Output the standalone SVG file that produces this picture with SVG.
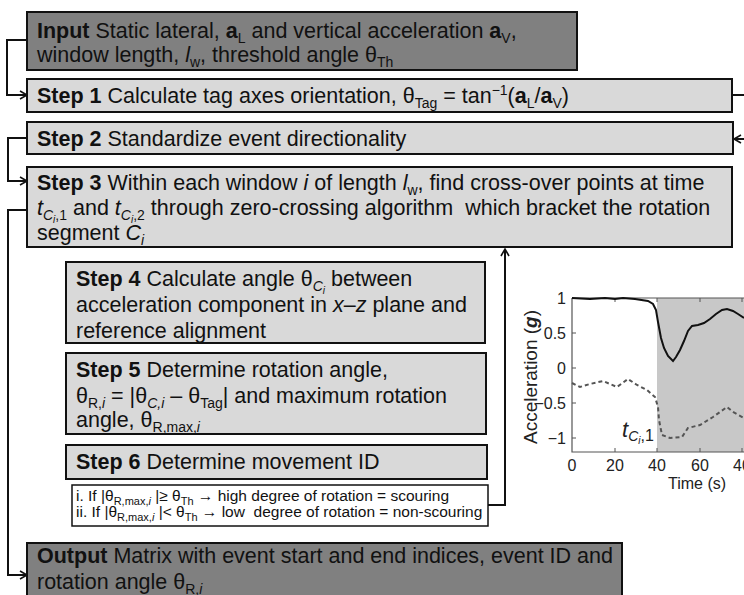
<svg xmlns="http://www.w3.org/2000/svg" width="744" height="595" viewBox="0 0 744 595">
<style>
.t{font-family:"Liberation Sans",Arial,sans-serif;font-size:21.5px;fill:#111}
.b{font-weight:bold}
.i{font-style:italic}
.s{font-size:14px}
.ss{font-size:10px}
.c{font-family:"Liberation Sans",Arial,sans-serif;font-size:15.5px;fill:#111}
.cs{font-size:11px}
.dark{fill:#808080;stroke:#111;stroke-width:2}
.light{fill:#d9d9d9;stroke:#111;stroke-width:2}
.white{fill:#fff;stroke:#111;stroke-width:1.5}
.con{fill:none;stroke:#111;stroke-width:2}
.ax{font-family:"Liberation Sans",Arial,sans-serif;font-size:16px;fill:#222}
</style>
<defs>
<marker id="ah" markerWidth="10" markerHeight="10" refX="8" refY="5" orient="auto" markerUnits="userSpaceOnUse"><path d="M1,1 L8,5 L1,9" fill="none" stroke="#111" stroke-width="1.6"/></marker>
</defs>
<g id="connectors">
<path class="con" d="M27,40 H7 V95 H27" marker-end="url(#ah)"/>
<path class="con" d="M732,95 H744"/>
<path class="con" d="M744,139 H734" marker-end="url(#ah)"/>
<path class="con" d="M27,138 H8 V181 H27" marker-end="url(#ah)"/>
<path class="con" d="M27,210 H8 V575 H27" marker-end="url(#ah)"/>
<path class="con" d="M488,505 H505 V249" marker-end="url(#ah)"/>
</g>
<g id="input">
<rect class="dark" x="27" y="12" width="550" height="58"/>
<text class="t" x="37" y="38"><tspan class="b">Input</tspan> Static lateral, <tspan class="b">a</tspan><tspan class="s" dy="5">L</tspan><tspan dy="-5"> and vertical acceleration </tspan><tspan class="b">a</tspan><tspan class="s" dy="5">V</tspan><tspan dy="-5">,</tspan></text>
<text class="t" x="37" y="62">window length, <tspan class="i">l</tspan><tspan class="s" dy="5">w</tspan><tspan dy="-5">, threshold angle θ</tspan><tspan class="s" dy="5">Th</tspan></text>
</g>
<g id="step1">
<rect class="light" x="27" y="79" width="705" height="33"/>
<text class="t" x="37" y="103"><tspan class="b">Step 1</tspan> Calculate tag axes orientation, θ<tspan class="s" dy="5">Tag</tspan><tspan dy="-5"> = tan</tspan><tspan class="s" dy="-8">−1</tspan><tspan dy="8">(</tspan><tspan class="b">a</tspan><tspan class="s" dy="5">L</tspan><tspan dy="-5">/</tspan><tspan class="b">a</tspan><tspan class="s" dy="5">V</tspan><tspan dy="-5">)</tspan></text>
</g>
<g id="step2">
<rect class="light" x="27" y="122" width="706" height="32"/>
<text class="t" x="37" y="146"><tspan class="b">Step 2</tspan> Standardize event directionality</text>
</g>
<g id="step3">
<rect class="light" x="27" y="167" width="705" height="80"/>
<text class="t" x="37" y="190"><tspan class="b">Step 3</tspan> Within each window <tspan class="i">i</tspan> of length <tspan class="i">l</tspan><tspan class="s" dy="5">w</tspan><tspan dy="-5">, find cross-over points at time</tspan></text>
<text class="t" x="37" y="215" xml:space="preserve"><tspan class="i">t</tspan><tspan class="s i" dy="5">C</tspan><tspan class="ss i" dy="3">i</tspan><tspan class="s" dy="-3">,1</tspan><tspan dy="-5"> and </tspan><tspan class="i">t</tspan><tspan class="s i" dy="5">C</tspan><tspan class="ss i" dy="3">i</tspan><tspan class="s" dy="-3">,2</tspan><tspan dy="-5"> through zero-crossing algorithm  which bracket the rotation</tspan></text>
<text class="t" x="37" y="240">segment <tspan class="i">C</tspan><tspan class="s i" dy="5">i</tspan></text>
</g>
<g id="step4">
<rect class="light" x="66" y="262" width="419" height="81"/>
<text class="t" x="76" y="286"><tspan class="b">Step 4</tspan> Calculate angle θ<tspan class="s i" dy="5">C</tspan><tspan class="ss i" dy="3">i</tspan><tspan dy="-8"> between</tspan></text>
<text class="t" x="76" y="312">acceleration component in <tspan class="i">x</tspan>–<tspan class="i">z</tspan> plane and</text>
<text class="t" x="76" y="338">reference alignment</text>
</g>
<g id="step5">
<rect class="light" x="66" y="353" width="420" height="81"/>
<text class="t" x="76" y="377"><tspan class="b">Step 5</tspan> Determine rotation angle,</text>
<text class="t" x="76" y="403">θ<tspan class="s" dy="5">R,</tspan><tspan class="s i">i</tspan><tspan dy="-5"> = |θ</tspan><tspan class="s i" dy="5">C,i</tspan><tspan dy="-5"> – θ</tspan><tspan class="s" dy="5">Tag</tspan><tspan dy="-5">| and maximum rotation</tspan></text>
<text class="t" x="76" y="427">angle, θ<tspan class="s" dy="5">R,max,</tspan><tspan class="s i">i</tspan></text>
</g>
<g id="step6">
<rect class="light" x="66" y="445" width="421" height="34"/>
<text class="t" x="76" y="469"><tspan class="b">Step 6</tspan> Determine movement ID</text>
</g>
<g id="conditions">
<rect class="white" x="72" y="485" width="416" height="41"/>
<text class="c" x="76" y="501" xml:space="preserve">i. If |θ<tspan class="cs" dy="4">R,max,</tspan><tspan class="cs i">i</tspan><tspan dy="-4"> |≥ θ</tspan><tspan class="cs" dy="4">Th</tspan><tspan dy="-4"> → high degree of rotation = scouring</tspan></text>
<text class="c" x="76" y="517" xml:space="preserve">ii. If |θ<tspan class="cs" dy="4">R,max,</tspan><tspan class="cs i">i</tspan><tspan dy="-4"> |&lt; θ</tspan><tspan class="cs" dy="4">Th</tspan><tspan dy="-4"> → low  degree of rotation = non-scouring</tspan></text>
</g>
<g id="output">
<rect class="dark" x="27" y="543" width="595" height="60"/>
<text class="t" x="37" y="563"><tspan class="b">Output</tspan> Matrix with event start and end indices, event ID and</text>
<text class="t" x="37" y="589">rotation angle θ<tspan class="s" dy="5">R,</tspan><tspan class="s i">i</tspan></text>
</g>
<g id="chart">
<rect x="572" y="298" width="180" height="154" fill="#fff"/>
<rect x="657" y="298" width="95" height="154" fill="#c8c8c8"/>
<path d="M572,298 H744 M572,298 V452 H744" fill="none" stroke="#555" stroke-width="1.2"/>
<path d="M615,452 v-4 M657,452 v-4 M700,452 v-4 M742,452 v-4 M615,298 v4 M657,298 v4 M700,298 v4 M742,298 v4 M572,333 h4 M572,368 h4 M572,403 h4 M572,438 h4" stroke="#555" stroke-width="1"/>
<path d="M572,298 L590,299 L605,298 L615,299 L623,298 L635,299 L648,301 L653,304 L656,310 L658,322 L661,338 L664,348 L668,356 L673,361 L676,357 L680,350 L684,341 L688,331 L692,326 L698,325 L704,323 L710,319 L716,314 L722,310 L727,309 L733,311 L738,314 L744,318" fill="none" stroke="#111" stroke-width="2"/>
<path d="M572,383 L580,387 L590,384 L603,381 L610,384 L617,387 L628,379 L637,385 L647,390 L655,397 L658,407 L659,420 L662,435 L670,438 L682,437 L688,428 L700,425 L713,417 L727,407 L733,412 L744,418" fill="none" stroke="#555" stroke-width="2" stroke-dasharray="4,3"/>
<text class="ax" x="566" y="304" text-anchor="end">1</text>
<text class="ax" x="566" y="339" text-anchor="end">0.5</text>
<text class="ax" x="566" y="374" text-anchor="end">0</text>
<text class="ax" x="566" y="409" text-anchor="end">−0.5</text>
<text class="ax" x="566" y="444" text-anchor="end">−1</text>
<text class="ax" x="572" y="471" text-anchor="middle">0</text>
<text class="ax" x="615" y="471" text-anchor="middle">20</text>
<text class="ax" x="657" y="471" text-anchor="middle">40</text>
<text class="ax" x="700" y="471" text-anchor="middle">60</text>
<text class="ax" x="742" y="471" text-anchor="middle">40</text>
<text class="ax" x="697" y="489" text-anchor="middle">Time (s)</text>
<text class="ax" transform="translate(537,377) rotate(-90)" text-anchor="middle" style="font-size:19px">Acceleration (<tspan class="b i">g</tspan>)</text>
<text class="ax" x="622" y="437" style="font-size:22px"><tspan class="i">t</tspan><tspan class="i" style="font-size:14px" dy="4">C</tspan><tspan class="i" style="font-size:10px" dy="3">i</tspan><tspan style="font-size:16px" dy="-3">,1</tspan></text>
</g>
</svg>
